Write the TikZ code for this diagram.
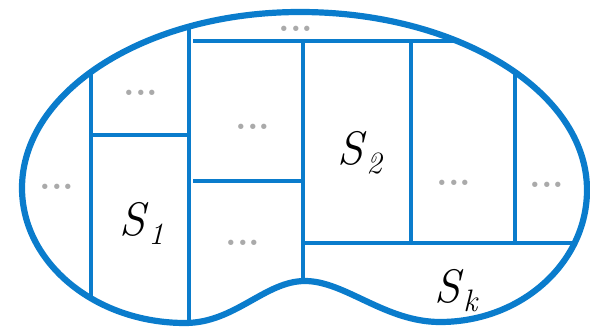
\documentclass[tikz,border=0pt]{standalone}
\usetikzlibrary{calc}
\definecolor{cellblue}{RGB}{10,124,204}
\definecolor{dotgray}{RGB}{170,170,170}
% outline of the region, left point first, clockwise
\newcommand{\kidney}{(22,188) arc[start angle=180,end angle=270,x radius=278,y radius=176]
  arc[start angle=-90,end angle=0,x radius=287,y radius=178]
  arc[start angle=0,end angle=90,x radius=147,y radius=132]
  .. controls (385,322) and (345,281) .. (305,281)
  .. controls (265,281) and (235,323) .. (185,323)
  arc[start angle=90,end angle=180,x radius=163,y radius=135] -- cycle}
\newcommand{\setname}[2]{\textit{#1}\raisebox{-9pt}{\fontsize{31}{31}\selectfont\textit{#2}}}
\newcommand{\gapdots}{{.}{.}{.}}

\begin{document}
\begin{tikzpicture}[x=1pt,y=-1pt,
  border/.style={draw=cellblue,line width=6.2pt},
  cut/.style={draw=cellblue,line width=4.8pt},
  gap/.style={text=dotgray,inner sep=0pt,anchor=base,font=\fontsize{37}{37}\selectfont\bfseries},
  setlabel/.style={inner sep=0pt,anchor=base west,font=\fontsize{47}{47}\selectfont}]
\useasboundingbox (0,0) rectangle (590,332);
\begin{scope}
\clip \kidney;
\draw[cut] (91,0)--(91,332);
\draw[cut] (189,0)--(189,332);
\draw[cut] (91,135)--(189,135);
\draw[cut] (193,41)--(600,41);
\draw[cut] (193,181)--(303,181);
\draw[cut] (303,41)--(303,332);
\draw[cut] (411,41)--(411,243);
\draw[cut] (515,0)--(515,243);
\draw[cut] (303,243)--(600,243);
\end{scope}
\draw[border] \kidney;
% cell labels
\node[setlabel] (S1) at (119,235) {\setname{S}{1}};
\node[setlabel] (S2) at (337,164) {\setname{S}{2}};
\node[setlabel] (Sk) at (434,302) {\setname{S}{k}};
\node[gap] (gapA) at (141,95.5) {\gapdots};
\node[gap] (gapB) at (296,31.5) {\gapdots};
\node[gap] (gapC) at (253,129.5) {\gapdots};
\node[gap] (gapD) at (57,189.5) {\gapdots};
\node[gap] (gapE) at (243,245.5) {\gapdots};
\node[gap] (gapF) at (454,185.5) {\gapdots};
\node[gap] (gapG) at (547,187.5) {\gapdots};
\end{tikzpicture}
\end{document}
